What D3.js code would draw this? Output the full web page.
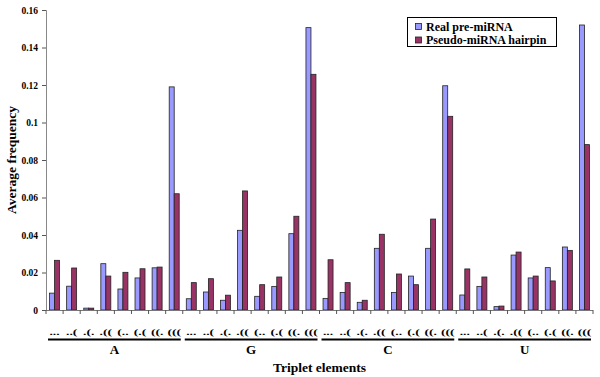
<!DOCTYPE html>
<html><head><meta charset="utf-8">
<script src="https://cdn.jsdelivr.net/npm/d3@7"></script>
<style>body{margin:0;background:#fff}svg{display:block}</style>
</head><body>
<svg id="c" width="600" height="377"></svg>
<script>
const groups = ["A","G","C","U"];
const triplets = ["...","..(",".(.",".((","(..","(.(","((.","((("];
const realVals = [0.009,0.0127,0.001,0.0247,0.0112,0.0171,0.0225,0.119,
                  0.006,0.0096,0.0052,0.0425,0.0073,0.0126,0.0407,0.1506,
                  0.0062,0.0094,0.0041,0.0329,0.0094,0.0181,0.0329,0.1196,
                  0.008,0.0126,0.0018,0.0293,0.0171,0.0226,0.0336,0.152];
const pseudoVals = [0.0265,0.0224,0.001,0.0181,0.0201,0.022,0.0229,0.062,
                    0.0146,0.0167,0.0079,0.0635,0.0135,0.0176,0.05,0.1257,
                    0.0268,0.0146,0.0052,0.0404,0.0192,0.0135,0.0485,0.1033,
                    0.0219,0.0176,0.0021,0.0309,0.0181,0.0155,0.0318,0.0882];
const yTicks = [0,0.02,0.04,0.06,0.08,0.1,0.12,0.14,0.16];
const seriesNames = ["Real pre-miRNA","Pseudo-miRNA hairpin"];
const colors = ["#9999FF","#993366"];

(function(){
const svg = d3.select("#c");
const font = "'Liberation Serif','Times New Roman',serif";
const pL = 46, pR = 593, pT = 10, pB = 310;
const idx = d3.range(groups.length*triplets.length);
const x = d3.scaleBand().domain(idx).range([pL,pR]).padding(0);
const xi = d3.scaleBand().domain([0,1]).range([0,x.bandwidth()]).paddingInner(0).paddingOuter(0.71);
const y = d3.scaleLinear().domain([0,0.16]).range([pB,pT]);

// y axis
const yAxis = d3.axisLeft(y).tickValues(yTicks).tickSize(4).tickFormat(d=> d===0?"0":String(+d.toFixed(2)));
const ga = svg.append("g").attr("transform",`translate(${pL},0)`).call(yAxis);
ga.select(".domain").attr("stroke","#888");
ga.selectAll(".tick line").attr("stroke","#555");
ga.selectAll("text").attr("font-family",font).attr("font-weight","bold").attr("font-size",9.5).attr("fill","#000").attr("x",-8);

// bars
const data = idx.map(i=>({i, vals:[realVals[i],pseudoVals[i]]}));
const cg = svg.append("g");
data.forEach(d=>{
  d.vals.forEach((v,s)=>{
    cg.append("rect")
      .attr("x",x(d.i)+xi(s)).attr("width",xi.bandwidth())
      .attr("y",y(v)).attr("height",y(0)-y(v))
      .attr("fill",colors[s]).attr("stroke","#222").attr("stroke-width",0.8);
  });
});

// x axis line and boundary ticks
svg.append("line").attr("x1",pL).attr("x2",pR).attr("y1",pB+0.5).attr("y2",pB+0.5).attr("stroke","#777").attr("stroke-width",1);
idx.concat([idx.length]).forEach(i=>{
  const xx = i<idx.length? x(i) : pR;
  svg.append("line").attr("x1",xx).attr("x2",xx).attr("y1",pB).attr("y2",pB+4).attr("stroke","#555");
});

// triplet labels
idx.forEach(i=>{
  svg.append("text").attr("transform",`translate(${x(i)+x.bandwidth()/2},335) scale(1.6,1)`)
    .attr("text-anchor","middle").attr("font-family",font).attr("font-weight","bold").attr("font-size",8.5)
    .text(triplets[i%triplets.length]);
});
// group lines and labels
groups.forEach((g,k)=>{
  const x0 = x(k*triplets.length)+2, x1 = x(k*triplets.length+triplets.length-1)+x.bandwidth()-2;
  svg.append("line").attr("x1",x0).attr("x2",x1).attr("y1",339.5).attr("y2",339.5).attr("stroke","#000").attr("stroke-width",1.8);
  svg.append("text").attr("x",(x0+x1)/2).attr("y",354).attr("text-anchor","middle")
    .attr("font-family",font).attr("font-weight","bold").attr("font-size",13).text(g);
});

// axis titles
svg.append("text").attr("x",(pL+pR)/2).attr("y",371.5).attr("text-anchor","middle")
  .attr("font-family",font).attr("font-weight","bold").attr("font-size",13.5).text("Triplet elements");
svg.append("text").attr("transform",`translate(16,${(pT+pB)/2}) rotate(-90)`).attr("text-anchor","middle")
  .attr("font-family",font).attr("font-weight","bold").attr("font-size",13.5).text("Average frequency");

// legend
const lg = svg.append("g");
lg.append("rect").attr("x",407.5).attr("y",17.5).attr("width",149).attr("height",29).attr("fill","#fff").attr("stroke","#000").attr("stroke-width",1);
seriesNames.forEach((n,s)=>{
  lg.append("rect").attr("x",415.5).attr("y",23.5+s*13.5).attr("width",6).attr("height",6).attr("fill",colors[s]).attr("stroke","#222").attr("stroke-width",0.8);
  lg.append("text").attr("x",426).attr("y",30.7+s*13.3).attr("font-family",font).attr("font-weight","bold").attr("font-size",12).text(n);
});
})();
</script>
</body></html>
